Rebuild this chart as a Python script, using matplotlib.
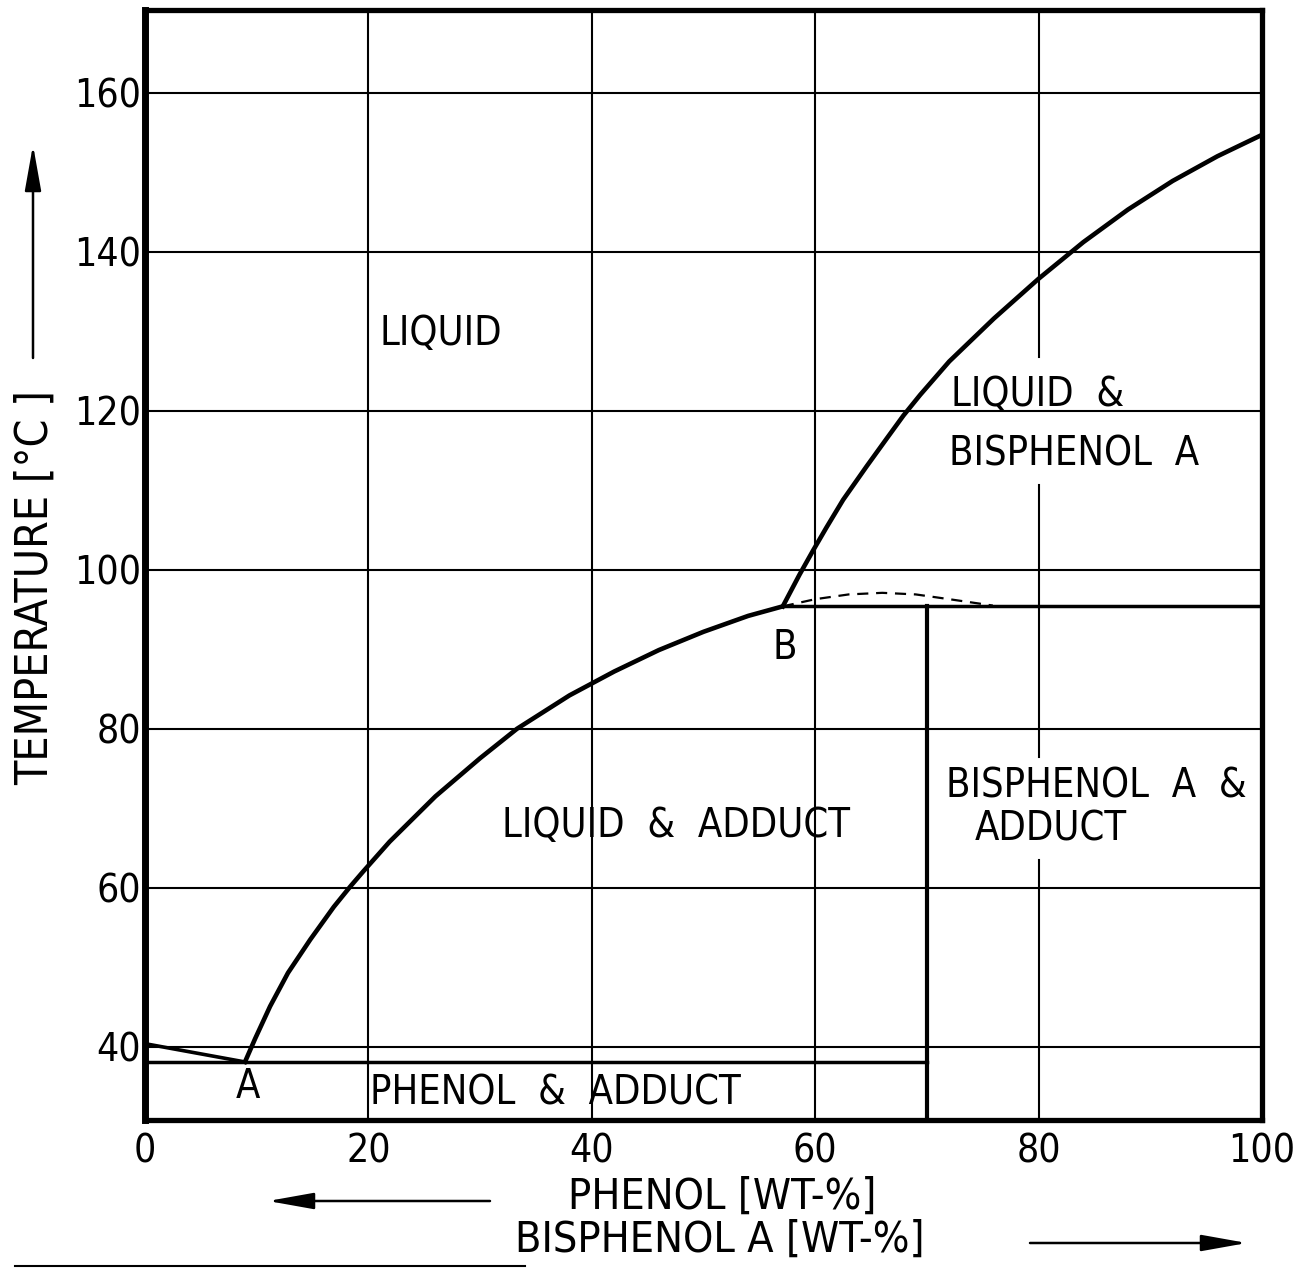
import numpy as np
import matplotlib
matplotlib.use("Agg")
import matplotlib.pyplot as plt
from matplotlib.lines import Line2D

plt.rcParams['font.family'] = ['DejaVu Sans']
plt.rcParams['font.stretch'] = 'condensed'

# phase diagram phenol / bisphenol A
x_ticks = [0, 20, 40, 60, 80, 100]
y_ticks = [40, 60, 80, 100, 120, 140, 160]

# melting line of phenol down to eutectic A
phenol_x = [0, 8.95]
phenol_T = [40.4, 38.1]

eutectic_T = 38.1
eutectic_x = [0, 70]

# liquidus of the adduct, A -> B
adduct_liq_x = [8.95, 9.85, 11.2, 12.8, 14.8, 16.9, 18.4, 19.5, 21.9, 26, 30, 33.3,
                38, 42, 46, 50, 54, 57.1]
adduct_liq_T = [38.1, 41.0, 45.1, 49.3, 53.5, 57.6, 60.2, 62.0, 65.8, 71.5, 76.3, 80.0,
                84.2, 87.2, 89.9, 92.2, 94.2, 95.4]

# liquidus of bisphenol A, B -> 100 %
bpa_liq_x = [57.1, 58.6, 59.8, 61.0, 62.5, 64.6, 66.4, 67.9, 69.4, 72, 76, 80, 84,
             88, 92, 96, 100]
bpa_liq_T = [95.4, 99.4, 102.4, 105.3, 108.8, 113.0, 116.5, 119.4, 122.0, 126.2,
             131.6, 136.6, 141.2, 145.3, 148.9, 152.0, 154.7]

# metastable (dashed) continuation of the adduct liquidus
meta_x = [57.1, 60, 63, 66, 69, 72, 75.9]
meta_T = [95.4, 96.3, 96.9, 97.1, 96.9, 96.3, 95.5]

peritectic_T = 95.4
peritectic_x = [57.1, 100]
adduct_comp = 70

fig = plt.figure(figsize=(12.95, 12.68), dpi=100)
ax = fig.add_axes([145/1295, 148/1268, 1117/1295, 1110/1268])
ax.set_xlim(0, 100)
ax.set_ylim(30.8, 170.4)

# grid, drawn by hand so the 80 line can have gaps behind the labels
for t in y_ticks:
    ax.axhline(t, color='k', lw=1.5, zorder=1)
for g in [20, 40, 60]:
    ax.axvline(g, color='k', lw=1.5, zorder=1)
for lo, hi in [(30.8, 63.5), (76.4, 110.7), (126.7, 170.4)]:
    ax.plot([80, 80], [lo, hi], color='k', lw=1.5, zorder=1)

ax.plot(phenol_x, phenol_T, color='k', lw=2.6)
ax.plot(eutectic_x, [eutectic_T, eutectic_T], color='k', lw=2.5)
ax.plot(adduct_liq_x, adduct_liq_T, color='k', lw=3.3, solid_joinstyle='round')
ax.plot(bpa_liq_x, bpa_liq_T, color='k', lw=3.3, solid_joinstyle='round')
ax.plot(meta_x, meta_T, color='k', lw=1.6, ls=(0, (5, 3.5)))
ax.plot(peritectic_x, [peritectic_T, peritectic_T], color='k', lw=2.5)
ax.plot([adduct_comp, adduct_comp], [30.8, peritectic_T], color='k', lw=3.0)

fs = 28.5
ax.text(21.0, 129.6, "LIQUID", fontsize=fs, va='center')
ax.text(72.2, 122.0, "LIQUID  &", fontsize=fs, va='center')
ax.text(72.0, 114.5, "BISPHENOL  A", fontsize=fs, va='center')
ax.text(57.3, 90.2, "B", fontsize=fs, va='center', ha='center')
ax.text(9.2, 35.0, "A", fontsize=fs, va='center', ha='center')
ax.text(32.0, 67.8, "LIQUID  &  ADDUCT", fontsize=fs, va='center')
ax.text(71.7, 72.7, "BISPHENOL  A  &", fontsize=fs, va='center')
ax.text(74.3, 67.3, "ADDUCT", fontsize=fs, va='center')
ax.text(20.1, 34.1, "PHENOL  &  ADDUCT", fontsize=fs, va='center')

ax.set_xticks(x_ticks)
ax.set_yticks(y_ticks)
ax.tick_params(length=0, labelsize=28)
ax.tick_params(axis='x', pad=9)
ax.tick_params(axis='y', pad=3)
for s in ax.spines.values():
    s.set_linewidth(3.8)
ax.spines['left'].set_linewidth(5.0)

fig.text(35/1295, 1 - 588/1268, "TEMPERATURE [°C ]", rotation=90, fontsize=32,
         ha='center', va='center')
fig.text(722/1295, 1 - 1197/1268, "PHENOL [WT-%]", fontsize=31, ha='center', va='center')
fig.text(720/1295, 1 - 1240/1268, "BISPHENOL A [WT-%]", fontsize=31, ha='center', va='center')

arrow = dict(arrowstyle='-|>,head_length=1.4,head_width=0.25', color='k', lw=1.8,
             shrinkA=0, shrinkB=0, mutation_scale=20)
ax.annotate("", xy=(33/1295, 1 - 145/1268), xytext=(33/1295, 1 - 358/1268),
            xycoords='figure fraction', arrowprops=arrow)
ax.annotate("", xy=(268/1295, 1 - 1201/1268), xytext=(490/1295, 1 - 1201/1268),
            xycoords='figure fraction', arrowprops=arrow)
ax.annotate("", xy=(1247/1295, 1 - 1243/1268), xytext=(1030/1295, 1 - 1243/1268),
            xycoords='figure fraction', arrowprops=arrow)

# page edge line at the bottom left of the scan
fig.add_artist(Line2D([15/1295, 525/1295], [2/1268, 2/1268], color='k', lw=1.5))

fig.savefig("out.png", dpi=100)
